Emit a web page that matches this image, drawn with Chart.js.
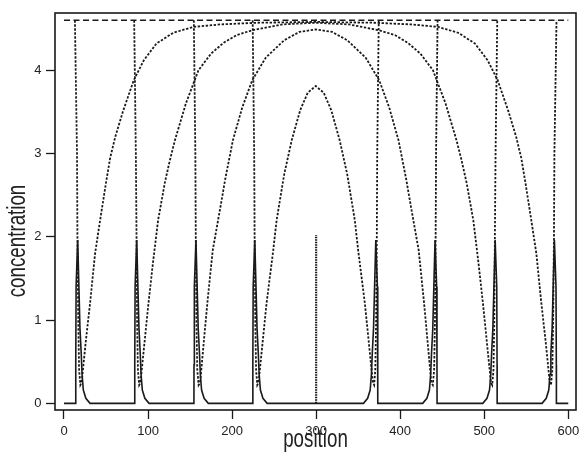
<!DOCTYPE html>
<html lang="en">
<head>
  <meta charset="UTF-8">
  <title>concentration vs position</title>
  <script src="https://cdn.jsdelivr.net/npm/chart.js"></script>
  <style>
    body { margin: 0; background: #fff; }
    canvas { display: block; }
  </style>
</head>
<body>
  <canvas id="chart" width="579" height="452"></canvas>

  <script>
    // axis ticks and titles
    const xTicks = [0, 100, 200, 300, 400, 500, 600];
    const yTicks = [0, 1, 2, 3, 4];
    const xTitle = 'position';
    const yTitle = 'concentration';

    // dashed upper level
    const levelX = [0, 600];
    const levelY = [4.6, 4.6];

    // initial pulse at the centre
    const pulseX = [300, 300];
    const pulseY = [0, 2.02];

    // dotted profiles (A = narrowest ... D = widest)
    const curveAX = [224.5, 226.3, 226.8, 227.6, 228.6, 230, 231.5, 236, 241, 249, 253, 262, 271, 281, 290, 299.5,
      309, 318, 328, 337, 346, 350, 358, 363, 367.5, 369, 370.4, 371.4, 372.2, 372.7, 374.5];
    const curveAY = [4.6, 3.0, 2.0, 1.0, 0.4, 0.22, 0.25, 0.7, 1.2, 1.84, 2.2, 2.75, 3.16, 3.52, 3.73, 3.81,
      3.73, 3.52, 3.16, 2.75, 2.2, 1.84, 1.2, 0.7, 0.25, 0.22, 0.4, 1.0, 2.0, 3.0, 4.6];

    const curveBX = [154.5, 156.3, 156.8, 157.6, 158.6, 160.2, 162, 166, 171, 177, 186, 192, 201, 212, 224, 240, 262, 280, 299.5,
      319, 337, 359, 375, 387, 398, 407, 413, 422, 428, 433, 437, 438.8, 440.4, 441.4, 442.2, 442.7, 444.5];
    const curveBY = [4.6, 3.0, 2.0, 1.0, 0.4, 0.22, 0.25, 0.7, 1.25, 1.84, 2.35, 2.7, 3.16, 3.55, 3.88, 4.15, 4.36, 4.46, 4.49,
      4.46, 4.36, 4.15, 3.88, 3.55, 3.16, 2.7, 2.35, 1.84, 1.25, 0.7, 0.25, 0.22, 0.4, 1.0, 2.0, 3.0, 4.6];

    const curveCX = [83.5, 85.5, 86.3, 87, 88, 89.5, 91, 96, 100.5, 106, 112, 120, 126, 132, 145, 160, 175, 190, 205, 224, 260, 299.5,
      339, 375, 394, 409, 424, 439, 454, 467, 473, 479, 487, 493, 498.5, 503, 508, 509.5, 511, 512, 512.7, 513.5, 515.5];
    const curveCY = [4.6, 3.0, 2.0, 1.0, 0.4, 0.22, 0.25, 0.75, 1.2, 1.7, 2.2, 2.65, 2.92, 3.16, 3.6, 4.0, 4.2, 4.33, 4.42, 4.48, 4.55, 4.57,
      4.55, 4.48, 4.42, 4.33, 4.2, 4.0, 3.6, 3.16, 2.92, 2.65, 2.2, 1.7, 1.2, 0.75, 0.25, 0.22, 0.4, 1.0, 2.0, 3.0, 4.6];

    const curveDX = [13, 15.5, 16, 17, 18, 19.5, 21, 26, 31, 37, 43, 50, 55, 61, 70, 83, 95, 110, 130, 154, 186, 230, 299.5,
      369, 413, 445, 469, 489, 504, 516, 529, 538, 544, 549, 556, 562, 568, 573, 578, 579.5, 581, 582, 583, 583.5, 586];
    const curveDY = [4.6, 3.0, 2.0, 1.0, 0.4, 0.22, 0.25, 0.75, 1.2, 1.8, 2.2, 2.65, 2.95, 3.2, 3.5, 3.88, 4.12, 4.32, 4.45, 4.52, 4.55, 4.57, 4.58,
      4.57, 4.55, 4.52, 4.45, 4.32, 4.12, 3.88, 3.5, 3.2, 2.95, 2.65, 2.2, 1.8, 1.2, 0.75, 0.25, 0.22, 0.4, 1.0, 2.0, 3.0, 4.6];

    // solid trace: flat baseline with eight travelling spikes
    const solidX = [0,
      13.9, 14.0, 14.4, 16.3, 17.5, 19.0, 20.5, 21.5, 23.0, 26.0, 31.0,
      84.1, 84.2, 84.6, 86.5, 87.7, 89.2, 90.7, 91.7, 93.2, 96.2, 101.2,
      154.6, 154.7, 155.1, 157.0, 158.2, 159.7, 161.2, 162.2, 163.7, 166.7, 171.7,
      224.6, 224.7, 225.1, 227.0, 228.2, 229.7, 231.2, 232.2, 233.7, 236.7, 241.7,
      356.3, 361.3, 364.3, 365.8, 366.8, 368.3, 369.8, 371.0, 372.9, 373.3, 373.4,
      426.8, 431.8, 434.8, 436.3, 437.3, 438.8, 440.3, 441.5, 443.4, 443.8, 443.9,
      498.3, 503.3, 506.3, 507.8, 508.8, 510.3, 511.8, 513.0, 514.9, 515.3, 515.4,
      568.8, 573.8, 576.8, 578.3, 579.3, 580.8, 582.3, 583.5, 585.4, 585.8, 585.9,
      600];
    const solidY = [0,
      0, 0.46, 1.4, 1.96, 1.5, 0.9, 0.6, 0.35, 0.16, 0.06, 0,
      0, 0.46, 1.4, 1.96, 1.5, 0.9, 0.6, 0.35, 0.16, 0.06, 0,
      0, 0.46, 1.4, 1.96, 1.5, 0.9, 0.6, 0.35, 0.16, 0.06, 0,
      0, 0.46, 1.4, 1.96, 1.5, 0.9, 0.6, 0.35, 0.16, 0.06, 0,
      0, 0.06, 0.16, 0.35, 0.6, 0.9, 1.5, 1.96, 1.4, 0.46, 0,
      0, 0.06, 0.16, 0.35, 0.6, 0.9, 1.5, 1.96, 1.4, 0.46, 0,
      0, 0.06, 0.16, 0.35, 0.6, 0.9, 1.5, 1.96, 1.4, 0.46, 0,
      0, 0.06, 0.16, 0.35, 0.6, 0.9, 1.5, 1.96, 1.4, 0.46, 0,
      0];

    const pts = (xs, ys) => xs.map((x, i) => ({ x: x, y: ys[i] }));
    const ink = '#1a1a1a';
    const font = '"Liberation Sans", Arial, sans-serif';

    const line = (xs, ys, dash, width) => ({
      data: pts(xs, ys),
      borderColor: ink,
      borderWidth: width,
      borderDash: dash,
      pointRadius: 0,
      tension: 0,
      fill: false
    });

    // full frame round the plot region, plus the two axis titles
    // (the titles in the original use a narrow face, so squeeze them along the text)
    const frame = {
      id: 'frame',
      afterDraw(chart) {
        const { ctx, chartArea: a } = chart;
        ctx.save();
        ctx.strokeStyle = ink;
        ctx.lineWidth = 1.6;
        ctx.strokeRect(a.left, a.top, a.right - a.left, a.bottom - a.top);

        ctx.fillStyle = '#222';
        ctx.font = '25px ' + font;
        ctx.textAlign = 'center';
        ctx.textBaseline = 'alphabetic';

        ctx.save();
        ctx.translate((a.left + a.right) / 2, 447);
        ctx.scale(0.75, 1);
        ctx.fillText(xTitle, 0, 0);
        ctx.restore();

        ctx.save();
        ctx.translate(25, 241);
        ctx.rotate(-Math.PI / 2);
        ctx.scale(0.75, 1);
        ctx.fillText(yTitle, 0, 0);
        ctx.restore();

        ctx.restore();
      }
    };

    new Chart(document.getElementById('chart'), {
      type: 'line',
      data: {
        datasets: [
          line(solidX, solidY, [], 1.6),
          line(levelX, levelY, [6, 3.5], 1.5),
          line(pulseX, pulseY, [1.5, 1], 2.2),
          line(curveAX, curveAY, [2.4, 1.6], 1.8),
          line(curveBX, curveBY, [2.4, 1.6], 1.8),
          line(curveCX, curveCY, [2.4, 1.6], 1.8),
          line(curveDX, curveDY, [2.4, 1.6], 1.8)
        ]
      },
      options: {
        responsive: false,
        animation: false,
        layout: { padding: { top: 13, right: 3, left: 0, bottom: 0 } },
        plugins: { legend: { display: false }, tooltip: { enabled: false } },
        scales: {
          x: {
            type: 'linear',
            min: -10.7,
            max: 609.2,
            afterBuildTicks: s => { s.ticks = xTicks.map(v => ({ value: v })); },
            afterFit: s => { s.height = 42; s.paddingLeft = 0; s.paddingRight = 0; },
            border: { display: false },
            grid: { drawOnChartArea: false, drawTicks: true, tickLength: 9, tickWidth: 1.3, tickColor: ink },
            ticks: { padding: 5, color: '#222', font: { family: font, size: 13 } },
            title: { display: false }
          },
          y: {
            min: -0.08,
            max: 4.687,
            afterBuildTicks: s => { s.ticks = yTicks.map(v => ({ value: v })); },
            afterFit: s => { s.width = 55; s.paddingTop = 0; s.paddingBottom = 0; },
            border: { display: false },
            grid: { drawOnChartArea: false, drawTicks: true, tickLength: 9, tickWidth: 1.3, tickColor: ink },
            ticks: { padding: 4.5, color: '#222', font: { family: font, size: 13 } },
            title: { display: false }
          }
        }
      },
      plugins: [frame]
    });
  </script>
</body>
</html>
